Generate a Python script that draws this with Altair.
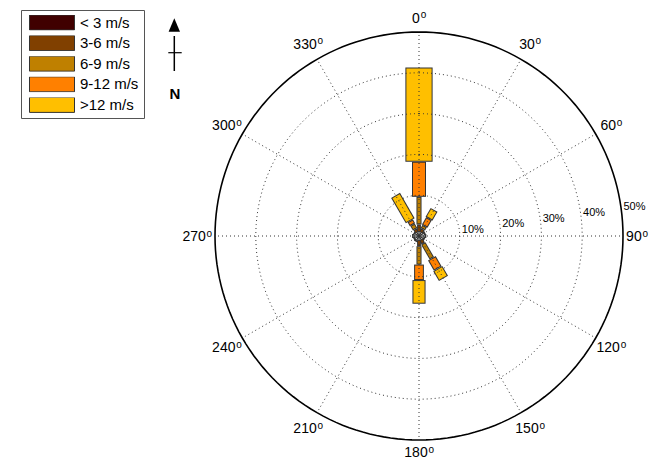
import altair as alt
import pandas as pd

# ---------------- data ----------------
directions = [0, 30, 60, 90, 120, 150, 180, 210, 240, 270, 300, 330]
speed_classes = ["< 3 m/s", "3-6 m/s", "6-9 m/s", "9-12 m/s", ">12 m/s"]
class_colors = ["#400000", "#804000", "#BF8000", "#FF8000", "#FFBF00"]

# frequency (%) per direction for each speed class
freq_lt3 = [1.0, 0.9, 1.2, 1.4, 1.1, 0.9, 1.0, 1.2, 1.0, 1.3, 1.1, 0.9]
freq_3_6 = [1.8, 1.0, 0.5, 0.4, 0.5, 1.2, 1.5, 0.4, 0.5, 0.4, 0.4, 1.0]
freq_6_9 = [6.8, 0.9, 0.0, 0.0, 0.0, 4.2, 4.5, 0.0, 0.0, 0.0, 0.0, 1.3]
freq_9_12 = [8.6, 2.1, 0.0, 0.0, 0.0, 2.9, 3.8, 0.0, 0.0, 0.0, 0.0, 1.1]
freq_gt12 = [23.1, 2.5, 0.0, 0.0, 0.0, 2.8, 5.8, 0.0, 0.0, 0.0, 0.0, 7.2]

ring_values = [10, 20, 30, 40]
outer_ring = [50]
ring_label_values = [10, 20, 30, 40, 50]
ring_label_texts = ["10%", "20%", "30%", "40%", "50%"]
angle_label_texts = [str(d) for d in directions]

# ---------------- tables ----------------
series = [freq_lt3, freq_3_6, freq_6_9, freq_9_12, freq_gt12]
rows = []
for i, d in enumerate(directions):
    cum = 0.0
    for ci, s in enumerate(series):
        v = s[i]
        if v > 0:
            rows.append({"dir": d, "cls": speed_classes[ci], "ci": ci,
                         "r0": cum, "r1": cum + v})
        cum += v
bars_df = pd.DataFrame(rows)

rings_df = pd.DataFrame({"ring": ring_values})
outer_df = pd.DataFrame({"ring": outer_ring})
spokes_df = pd.DataFrame({"dir": directions})
ring_lab_df = pd.DataFrame({"ring": ring_label_values, "txt": ring_label_texts})
ang_lab_df = pd.DataFrame({"dir": directions, "txt": angle_label_texts})
legend_df = pd.DataFrame({"cls": speed_classes})
one = pd.DataFrame({"k": [0]})

# ---------------- scales ----------------
W, H = 641, 453
PX = 4.08          # pixels per percent
CX, CY = 411, 228  # centre inside the view
xs = alt.Scale(domain=[-CX / PX, (W - CX) / PX], nice=False, zero=False)
ys = alt.Scale(domain=[-(H - CY) / PX, CY / PX], nice=False, zero=False)
sz = alt.Scale(domain=[0, 50], range=[0, 50 * PX])
FONT = "Liberation Sans"
LABEL_R = 54.4
X_LIM = 53.4    # keep the 90 label inside the page
Y_LIM = -52.9   # keep the 180 label inside the page
Y_TOP = 53.5    # keep the 0 label inside the page

base_bars = alt.Chart(bars_df).transform_calculate(
    rad="datum.dir*PI/180",
    wf="datum.ci >= 3 ? 0.4 + 0.14*datum.r1 : (datum.ci == 2 ? 0.75 : (datum.ci == 1 ? 0.45 : 0.2))",
)

outline = base_bars.transform_calculate(
    x0="datum.r0*sin(datum.rad)", y0="datum.r0*cos(datum.rad)",
    x1="datum.r1*sin(datum.rad)", y1="datum.r1*cos(datum.rad)",
    wo="datum.ci == 0 ? 0.3 : datum.wf + 0.49",
).mark_rule(color="#333333", strokeCap="butt").encode(
    x=alt.X("x0:Q", scale=xs, axis=None),
    y=alt.Y("y0:Q", scale=ys, axis=None),
    x2="x1:Q", y2="y1:Q",
    size=alt.Size("wo:Q", scale=sz, legend=None),
)

fill = base_bars.transform_filter("datum.r1 - datum.r0 > 0.6 && datum.ci > 0").transform_calculate(
    a0="datum.r0 + 0.245", a1="datum.r1 - 0.245",
).transform_calculate(
    x0="datum.a0*sin(datum.rad)", y0="datum.a0*cos(datum.rad)",
    x1="datum.a1*sin(datum.rad)", y1="datum.a1*cos(datum.rad)",
).mark_rule(strokeCap="butt").encode(
    x=alt.X("x0:Q", scale=xs, axis=None),
    y=alt.Y("y0:Q", scale=ys, axis=None),
    x2="x1:Q", y2="y1:Q",
    size=alt.Size("wf:Q", scale=sz, legend=None),
    color=alt.Color("cls:N", scale=alt.Scale(domain=speed_classes, range=class_colors), legend=None),
)

def circle(df, **mk):
    return alt.Chart(df).transform_calculate(
        a="sequence(0, 362, 2)"
    ).transform_flatten(["a"]).transform_calculate(
        gx="datum.ring*sin(datum.a*PI/180)", gy="datum.ring*cos(datum.a*PI/180)"
    ).mark_line(**mk).encode(
        x=alt.X("gx:Q", scale=xs, axis=None),
        y=alt.Y("gy:Q", scale=ys, axis=None),
        detail="ring:N", order="a:Q",
    )

rings = circle(rings_df, color="#333333", strokeWidth=1, strokeDash=[1, 3])
outer = circle(outer_df, color="black", strokeWidth=1.6)

spokes = alt.Chart(spokes_df).transform_calculate(
    x0="0", y0="0",
    x1="50*sin(datum.dir*PI/180)", y1="50*cos(datum.dir*PI/180)",
).mark_rule(color="#333333", strokeWidth=1, strokeDash=[1, 3]).encode(
    x=alt.X("x0:Q", scale=xs, axis=None),
    y=alt.Y("y0:Q", scale=ys, axis=None),
    x2="x1:Q", y2="y1:Q",
)

ring_labels = alt.Chart(ring_lab_df).transform_calculate(
    lx="(datum.ring + 0.6)*sin(82*PI/180)", ly="(datum.ring + 0.6)*cos(82*PI/180)",
).mark_text(align="left", baseline="middle", font=FONT, fontSize=11, color="#000000").encode(
    x=alt.X("lx:Q", scale=xs, axis=None),
    y=alt.Y("ly:Q", scale=ys, axis=None),
    text="txt:N",
)

# angle labels: number plus superscript "o"
ang_base = alt.Chart(ang_lab_df).transform_calculate(
    lx=f"min({LABEL_R}*sin(datum.dir*PI/180), {X_LIM})",
    ly=f"min(max({LABEL_R}*cos(datum.dir*PI/180), {Y_LIM}), {Y_TOP})",
    nw="length(datum.txt)*7.78",
).transform_calculate(
    nx=f"datum.lx - 3/{PX}", ny=f"datum.ly - 5/{PX}",
    ox=f"datum.lx - 3/{PX} + (datum.nw/2 + 0.8)/{PX}", oy=f"datum.ly - 0.7/{PX}",
)
angle_numbers = ang_base.mark_text(
    align="center", baseline="alphabetic", font=FONT, fontSize=14, color="black"
).encode(
    x=alt.X("nx:Q", scale=xs, axis=None),
    y=alt.Y("ny:Q", scale=ys, axis=None),
    text="txt:N",
)
angle_degs = ang_base.mark_text(
    align="left", baseline="alphabetic", font=FONT, fontSize=10, color="black", text="o"
).encode(
    x=alt.X("ox:Q", scale=xs, axis=None),
    y=alt.Y("oy:Q", scale=ys, axis=None),
)

SWATCH = "M-1,-0.3333H1V0.3333H-1Z"
legend_layer = alt.Chart(legend_df).mark_point(
    filled=True, clip=True, shape=SWATCH, stroke="#333333", strokeWidth=1, opacity=1
).encode(
    x=alt.value(-100), y=alt.value(-100),
    fill=alt.Fill("cls:N", scale=alt.Scale(domain=speed_classes, range=class_colors),
                  legend=alt.Legend(
                      title=None, orient="none", legendX=13, legendY=2,
                      symbolType=SWATCH, symbolSize=2025, symbolStrokeColor="#333333",
                      symbolStrokeWidth=1, clipHeight=15, rowPadding=4.6,
                      labelFontSize=15, labelFont=FONT, labelColor="black",
                      labelOffset=5, padding=5, symbolOffset=3,
                      strokeColor="#555555", fillColor="white",
                  )),
)

# north arrow
arrow_shaft = alt.Chart(one).mark_rule(color="black", strokeWidth=1.5).encode(
    x=alt.value(166.3), y=alt.value(28), y2=alt.value(63))
arrow_tick = alt.Chart(one).mark_rule(color="black", strokeWidth=1.2).encode(
    x=alt.value(160.3), x2=alt.value(173.7), y=alt.value(44.7))
arrow_head = alt.Chart(one).mark_point(
    shape="M0,-1L0.85,1L-0.85,1Z", filled=True, color="black", opacity=1, size=180
).encode(x=alt.value(166.3), y=alt.value(17))
north = alt.Chart(one).mark_text(
    text="N", font=FONT, fontSize=15, fontWeight="bold", color="black",
    align="center", baseline="middle"
).encode(x=alt.value(167), y=alt.value(86))

chart = alt.layer(
    outline, fill, rings, spokes, outer, ring_labels, angle_numbers, angle_degs,
    legend_layer, arrow_shaft, arrow_tick, arrow_head, north,
).properties(
    width=W, height=H, padding=0, autosize="none"
).configure_view(strokeWidth=0).resolve_scale(color="independent", fill="independent")

chart.save("out.html", embed_options={"renderer": "svg", "actions": False})
